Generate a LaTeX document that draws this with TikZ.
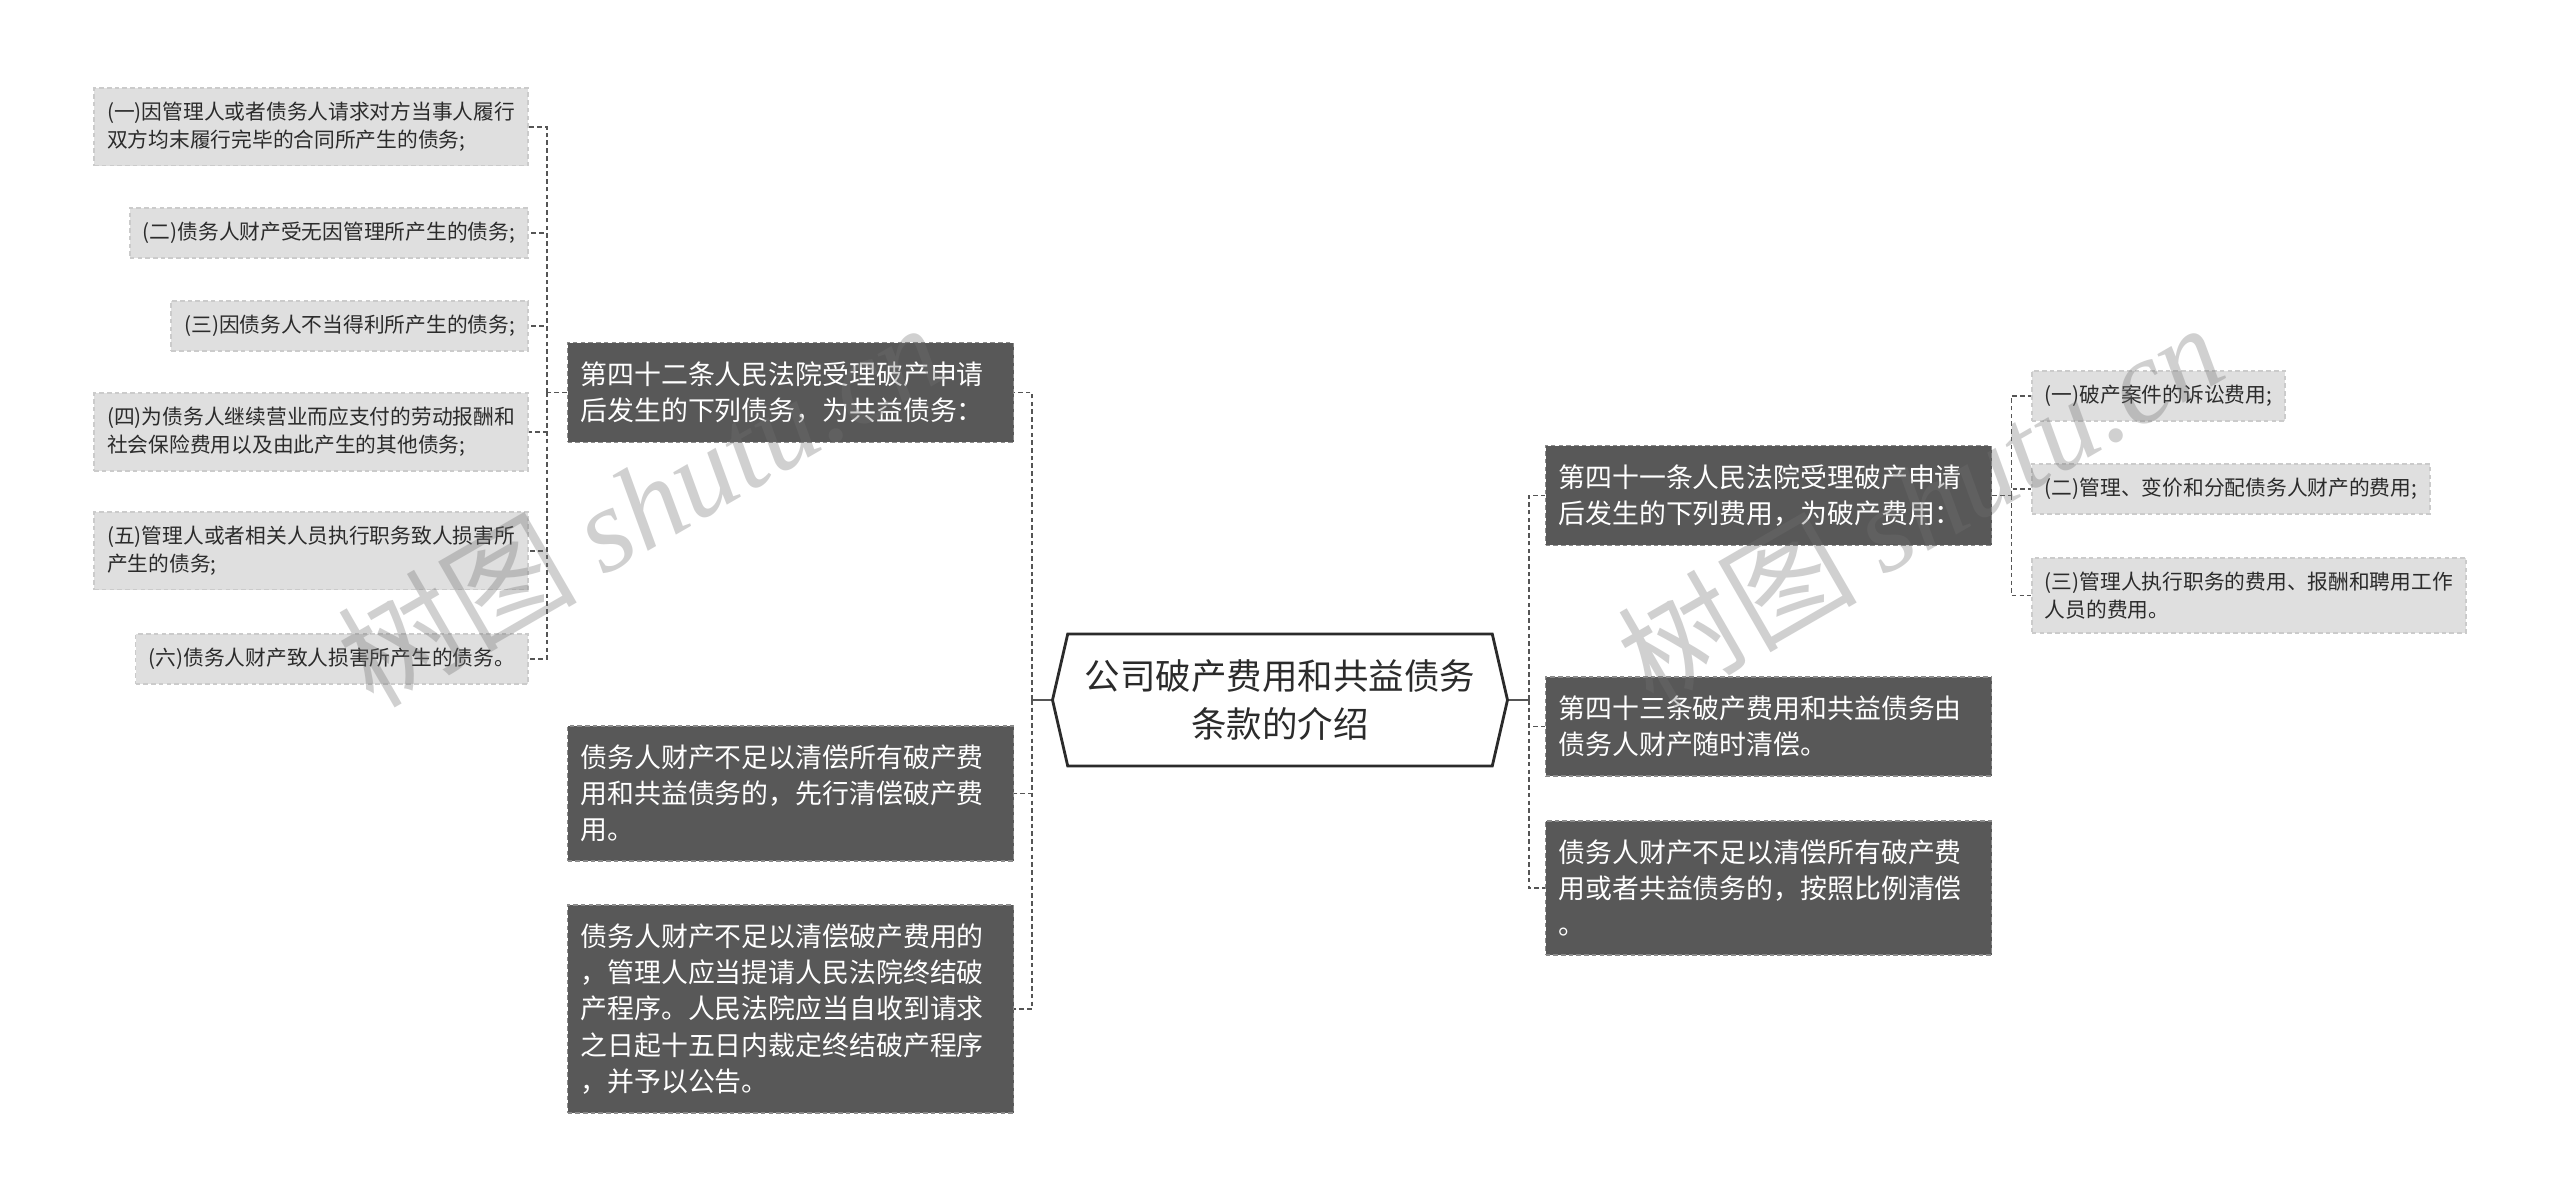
\documentclass[tikz,border=0pt]{standalone}
\usepackage{fontspec}
\setmainfont{Noto Sans CJK SC}
\newfontfamily\wmserif{Liberation Serif}
\usepackage{xcolor}
\definecolor{bkdark}{HTML}{585858}
\definecolor{bkedge}{HTML}{8A8A8A}
\definecolor{bklight}{HTML}{DFDFDF}
\definecolor{bkledge}{HTML}{CBCBCB}
\definecolor{bkline}{HTML}{555555}
\definecolor{bktext}{HTML}{2B2B2B}
\definecolor{bkmark}{HTML}{717171}
\usepackage{tikz}
\usetikzlibrary{shapes.symbols}

\begin{document}
\begin{tikzpicture}[
  root/.style={signal, signal to=west and east, signal pointer angle=154,
               draw=bktext, line width=0.8pt, fill=white,
               minimum width=4.55cm, minimum height=1.32cm, inner sep=0pt,
               align=center, font=\fontsize{10.1pt}{13.5pt}\selectfont, text=bktext},
  br/.style={draw=bkedge, fill=bkdark, dash pattern=on 1.3pt off 0.9pt, line width=0.5pt,
             text width=4.2cm, align=left, inner xsep=0.13cm, inner ysep=0.19cm,
             font=\fontsize{7.65pt}{10.3pt}\selectfont, text=white},
  lf/.style={draw=bkledge, fill=bklight, dash pattern=on 1.3pt off 0.9pt, line width=0.5pt,
             align=left, inner xsep=0.13cm, inner ysep=0.14cm,
             font=\fontsize{5.9pt}{7.9pt}\selectfont, text=bktext},
  lnk/.style={draw=bkline, line width=0.5pt, dash pattern=on 1.3pt off 0.9pt},
  trunk/.style={draw=bkline, line width=0.8pt},
  wm/.style={rotate=30, text=bkmark, opacity=0.33, font=\fontsize{34pt}{34pt}\selectfont}
]
  \path[fill=white,use as bounding box] (0,0) rectangle (25.6,-12.02);

  % centre
  \node[root] (c) at (12.80,-7.00) {公司破产费用和共益债务\\条款的介绍};

  % left branches
  \node[br] (l1) at (7.905,-3.925) {第四十二条人民法院受理破产申请\\后发生的下列债务，为共益债务：};
  \node[br] (l2) at (7.905,-7.935) {债务人财产不足以清偿所有破产费\\用和共益债务的，先行清偿破产费\\用。};
  \node[br] (l3) at (7.905,-10.09) {债务人财产不足以清偿破产费用的\\，管理人应当提请人民法院终结破\\产程序。人民法院应当自收到请求\\之日起十五日内裁定终结破产程序\\，并予以公告。};

  % right branches
  \node[br] (r1) at (17.685,-4.955) {第四十一条人民法院受理破产申请\\后发生的下列费用，为破产费用：};
  \node[br] (r2) at (17.685,-7.265) {第四十三条破产费用和共益债务由\\债务人财产随时清偿。};
  \node[br] (r3) at (17.685,-8.88) {债务人财产不足以清偿所有破产费\\用或者共益债务的，按照比例清偿\\。};

  % leaves of l1
  \node[lf,anchor=east] (a1) at (5.29,-1.27) {(一)因管理人或者债务人请求对方当事人履行\\双方均末履行完毕的合同所产生的债务;};
  \node[lf,anchor=east] (a2) at (5.29,-2.33) {(二)债务人财产受无因管理所产生的债务;};
  \node[lf,anchor=east] (a3) at (5.29,-3.26) {(三)因债务人不当得利所产生的债务;};
  \node[lf,anchor=east] (a4) at (5.29,-4.32) {(四)为债务人继续营业而应支付的劳动报酬和\\社会保险费用以及由此产生的其他债务;};
  \node[lf,anchor=east] (a5) at (5.29,-5.51) {(五)管理人或者相关人员执行职务致人损害所\\产生的债务;};
  \node[lf,anchor=east] (a6) at (5.29,-6.59) {(六)债务人财产致人损害所产生的债务。};

  % leaves of r1
  \node[lf,anchor=west] (b1) at (20.31,-3.96) {(一)破产案件的诉讼费用;};
  \node[lf,anchor=west] (b2) at (20.31,-4.89) {(二)管理、变价和分配债务人财产的费用;};
  \node[lf,anchor=west] (b3) at (20.31,-5.955) {(三)管理人执行职务的费用、报酬和聘用工作\\人员的费用。};

  % connectors
  \draw[trunk] (c.west) -- ++(-0.19,0) coordinate (cl);
  \draw[trunk] (c.east) -- ++(0.20,0) coordinate (cr);
  \foreach \n in {l1,l2,l3} \draw[lnk] (cl) |- (\n.east);
  \foreach \n in {r1,r2,r3} \draw[lnk] (cr) |- (\n.west);

  \draw[lnk] (l1.west) -- ++(-0.20,0) coordinate (lj);
  \foreach \n in {a1,a2,a3,a4,a5,a6} \draw[lnk] (lj) |- (\n.east);
  \draw[lnk] (r1.east) -- ++(0.19,0) coordinate (rj);
  \foreach \n in {b1,b2,b3} \draw[lnk] (rj) |- (\n.west);

  % watermark
  \node[wm] (w1) at (6.40,-5.03) {树图 {\wmserif\itshape shutu.cn}};
  \node[wm] (w2) at (19.20,-5.03) {树图 {\wmserif\itshape shutu.cn}};
\end{tikzpicture}
\end{document}
